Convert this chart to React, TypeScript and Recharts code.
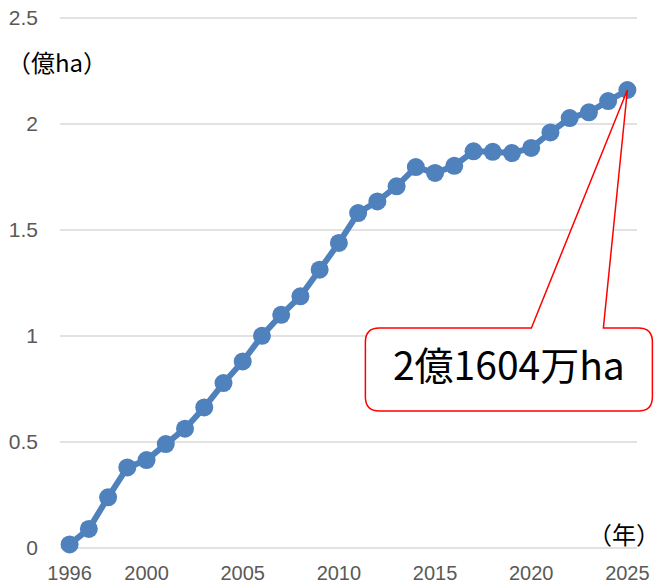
import React from 'react';
import { LineChart, Line, XAxis, YAxis, CartesianGrid, ReferenceDot, Customized } from 'recharts';

const years = [
  1996, 1997, 1998, 1999, 2000, 2001, 2002, 2003, 2004, 2005,
  2006, 2007, 2008, 2009, 2010, 2011, 2012, 2013, 2014, 2015,
  2016, 2017, 2018, 2019, 2020, 2021, 2022, 2023, 2024, 2025,
];
const areas = [
  0.017, 0.09, 0.239, 0.38, 0.415, 0.49, 0.563, 0.663, 0.778, 0.88,
  1.001, 1.1, 1.187, 1.313, 1.439, 1.58, 1.635, 1.706, 1.797, 1.769,
  1.803, 1.871, 1.869, 1.863, 1.887, 1.96, 2.028, 2.055, 2.108, 2.1604,
];
const xTicks = [1996, 2000, 2005, 2010, 2015, 2020, 2025];
const yTicks = [0, 0.5, 1, 1.5, 2, 2.5];
const yUnit = '（億ha）';
const xUnit = '（年）';
const calloutText = '2億1604万ha';
const lastYear = years[years.length - 1];
const lastValue = areas[areas.length - 1];

const data = years.map((y, i) => ({ year: y, area: areas[i] }));

const BLUE = '#4f81bd';
const TICK = '#595959';

const Callout = (props: any) => {
  const { cx, cy } = props;
  if (cx == null || cy == null) return null;
  const left = cx - 262;
  const right = cx + 25;
  const top = cy + 238;
  const bottom = cy + 321;
  const r = 14;
  const w1 = cx - 96;
  const w2 = cx - 24;
  const d = [
    `M ${left + r} ${top}`,
    `L ${w1} ${top}`,
    `L ${cx} ${cy}`,
    `L ${w2} ${top}`,
    `L ${right - r} ${top}`,
    `Q ${right} ${top} ${right} ${top + r}`,
    `L ${right} ${bottom - r}`,
    `Q ${right} ${bottom} ${right - r} ${bottom}`,
    `L ${left + r} ${bottom}`,
    `Q ${left} ${bottom} ${left} ${bottom - r}`,
    `L ${left} ${top + r}`,
    `Q ${left} ${top} ${left + r} ${top}`,
    'Z',
  ].join(' ');
  return (
    <g>
      <path d={d} fill="#ffffff" stroke="#ff0000" strokeWidth={1.5} />
      <text
        x={(left + right) / 2}
        y={top + 52}
        textAnchor="middle"
        fontFamily="'Noto Sans CJK JP', 'Noto Sans', sans-serif"
        fontSize={39}
        fill="#000000"
      >
        {calloutText}
      </text>
    </g>
  );
};

const Units = () => (
  <g>
    <text x={7} y={72} fontFamily="'Noto Sans CJK JP', sans-serif" fontSize={24} fill="#000000">
      {yUnit}
    </text>
    <text x={660} y={544} textAnchor="end" fontFamily="'Noto Sans CJK JP', sans-serif" fontSize={24} fill="#000000">
      {xUnit}
    </text>
  </g>
);

export default function App() {
  return (
    <div style={{ position: 'absolute', left: 0, top: 0, width: 661, height: 585, background: '#ffffff' }}>
      <LineChart
        width={661}
        height={585}
        data={data}
        margin={{ top: 18, right: 24, bottom: 0, left: 0 }}
      >
        <CartesianGrid vertical={false} stroke="#d9d9d9" strokeWidth={1.5} />
        <XAxis
          dataKey="year"
          type="number"
          domain={[1995.5, 2025.5]}
          ticks={xTicks}
          interval={0}
          axisLine={false}
          tickLine={false}
          tickSize={0}
          tickMargin={18}
          height={37}
          tick={{ fill: TICK, fontSize: 20, fontFamily: "'Liberation Sans', Arial, sans-serif" }}
        />
        <YAxis
          type="number"
          domain={[0, 2.5]}
          ticks={yTicks}
          interval={0}
          axisLine={false}
          tickLine={false}
          tickSize={0}
          tickMargin={22}
          width={60}
          tick={{ fill: TICK, fontSize: 21, fontFamily: "'Liberation Sans', Arial, sans-serif" }}
        />
        <Line
          type="linear"
          dataKey="area"
          stroke={BLUE}
          strokeWidth={6}
          dot={{ r: 9, fill: BLUE, stroke: BLUE, strokeWidth: 0 }}
          activeDot={false}
          isAnimationActive={false}
        />
        <ReferenceDot x={lastYear} y={lastValue} r={0} shape={Callout} ifOverflow="visible" />
        <Customized component={Units} />
      </LineChart>
    </div>
  );
}
